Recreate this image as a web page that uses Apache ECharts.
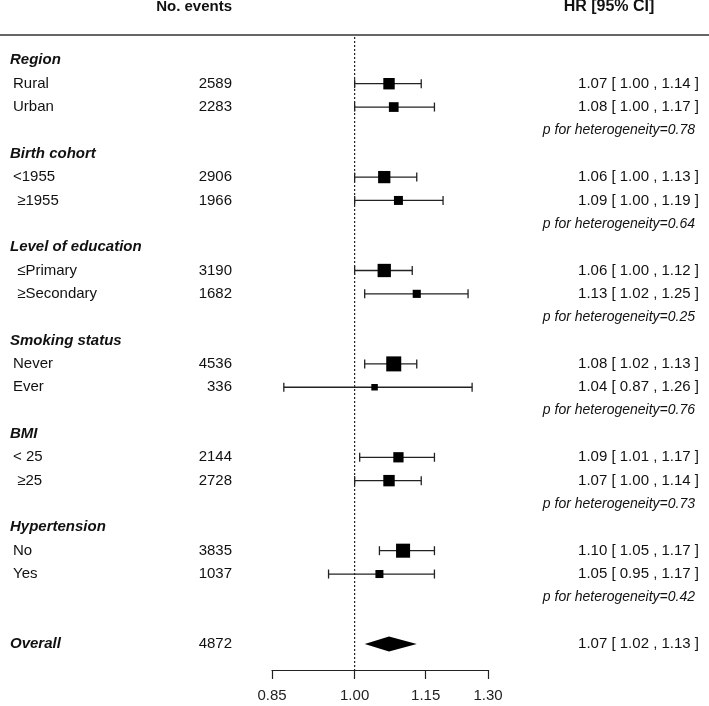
<!DOCTYPE html>
<html>
<head>
<meta charset="utf-8">
<title>Forest plot</title>
<script src="https://cdn.jsdelivr.net/npm/echarts@6/dist/echarts.min.js"></script>
<style>
  html, body { margin: 0; padding: 0; background: #fff; }
  #chart { width: 709px; height: 706px; }
</style>
</head>
<body>
<div id="chart"></div>
<script>
// 分组与亚组
const groups = ['Region', 'Birth cohort', 'Level of education', 'Smoking status', 'BMI', 'Hypertension'];
const subLabels = ['Rural', 'Urban', '<1955', ' \u22651955', ' \u2264Primary', ' \u2265Secondary',
    'Never', 'Ever', '< 25', ' \u226525', 'No', 'Yes'];
const events = [2589, 2283, 2906, 1966, 3190, 1682, 4536, 336, 2144, 2728, 3835, 1037];
const hr = [1.07, 1.08, 1.06, 1.09, 1.06, 1.13, 1.08, 1.04, 1.09, 1.07, 1.10, 1.05];
const lower = [1.00, 1.00, 1.00, 1.00, 1.00, 1.02, 1.02, 0.87, 1.01, 1.00, 1.05, 0.95];
const upper = [1.14, 1.17, 1.13, 1.19, 1.12, 1.25, 1.13, 1.26, 1.17, 1.14, 1.17, 1.17];
const pHet = ['0.78', '0.64', '0.25', '0.76', '0.73', '0.42'];
const overallEvents = 4872;
const overallCI = [1.07, 1.02, 1.13]; // HR, lower, upper
const refHR = 1.00;
const tickValues = [0.85, 1.00, 1.15, 1.30];
const tickLabels = ['0.85', '1.00', '1.15', '1.30'];

const FONT = '"Liberation Sans", Arial, sans-serif';
const fmt = v => v.toFixed(2);

// 行号：每组 4 行（标题、两个亚组、p 值），总计在第 25 行
const rowOf = i => Math.floor(i / 2) * 4 + 1 + (i % 2);
const overallRow = groups.length * 4 + 1;
const yMin = -1, yMax = 26.11;

// 方块大小按逆方差权重
const weights = hr.map((h, i) => {
    const se = (Math.log(upper[i]) - Math.log(lower[i])) / 3.92;
    return 1 / (se * se);
});
const wMin = Math.min(...weights), wMax = Math.max(...weights);
const boxSize = w => 6.5 + 8.5 * (w - wMin) / (wMax - wMin);

// 文字单元格
let cells = [];
groups.forEach((g, k) => {
    cells.push({ row: k * 4, text: g, x: 10, align: 'left', font: 'italic bold 15px ' + FONT });
    cells.push({ row: k * 4 + 3, text: 'p for heterogeneity=' + pHet[k], x: 695, align: 'right', font: 'italic 14px ' + FONT });
});
subLabels.forEach((s, i) => {
    cells.push({ row: rowOf(i), text: s, x: 13, align: 'left', font: '15px ' + FONT });
    cells.push({ row: rowOf(i), text: String(events[i]), x: 232, align: 'right', font: '15px ' + FONT });
    cells.push({ row: rowOf(i), text: fmt(hr[i]) + ' [ ' + fmt(lower[i]) + ' , ' + fmt(upper[i]) + ' ]', x: 699, align: 'right', font: '15px ' + FONT });
});
cells.push({ row: overallRow, text: 'Overall', x: 10, align: 'left', font: 'italic bold 15px ' + FONT });
cells.push({ row: overallRow, text: String(overallEvents), x: 232, align: 'right', font: '15px ' + FONT });
cells.push({ row: overallRow, text: fmt(overallCI[0]) + ' [ ' + fmt(overallCI[1]) + ' , ' + fmt(overallCI[2]) + ' ]', x: 699, align: 'right', font: '15px ' + FONT });

var myChart = echarts.init(document.getElementById('chart'));

var ciData = hr.map((h, i) => [Math.log(lower[i]), Math.log(upper[i]), Math.log(h), rowOf(i), boxSize(weights[i])]);

var option = {
    animation: false,
    grid: { left: 272, right: 221, top: 37, bottom: 36 },
    xAxis: {
        type: 'value',
        min: Math.log(tickValues[0]),
        max: Math.log(tickValues[tickValues.length - 1]),
        splitLine: { show: false },
        axisLine: { show: true, onZero: false, lineStyle: { color: '#222', width: 1.2 } },
        axisTick: {
            show: true,
            length: 9,
            customValues: tickValues.map(v => Math.log(v)),
            lineStyle: { color: '#222', width: 1.2 }
        },
        axisLabel: {
            show: true,
            margin: 18,
            customValues: tickValues.map(v => Math.log(v)),
            fontSize: 15,
            fontFamily: FONT,
            color: '#222',
            formatter: function (v) {
                let best = 0;
                tickValues.forEach((t, i) => {
                    if (Math.abs(Math.log(t) - v) < Math.abs(Math.log(tickValues[best]) - v)) best = i;
                });
                return tickLabels[best];
            }
        }
    },
    yAxis: {
        type: 'value',
        inverse: true,
        min: yMin,
        max: yMax,
        show: false
    },
    graphic: [
        {
            type: 'line',
            shape: { x1: 0, y1: 35, x2: 709, y2: 35 },
            style: { stroke: '#333', lineWidth: 1.5 }
        },
        {
            type: 'text', x: 232, y: 7,
            style: { text: 'No. events', font: 'bold 15px ' + FONT, fill: '#111', align: 'right', textAlign: 'right', verticalAlign: 'middle', textVerticalAlign: 'middle' }
        },
        {
            type: 'text', x: 609, y: 7,
            style: { text: 'HR [95% CI]', font: 'bold 16px ' + FONT, fill: '#111', align: 'center', textAlign: 'center', verticalAlign: 'middle', textVerticalAlign: 'middle' }
        }
    ],
    series: [
        {
            // 参考线 HR = 1
            type: 'line',
            data: [[Math.log(refHR), yMin], [Math.log(refHR), yMax]],
            symbol: 'none',
            silent: true,
            lineStyle: { color: '#222', width: 1.2, type: [2, 2] },
            z: 1
        },
        {
            type: 'custom',
            clip: false,
            data: ciData,
            renderItem: function (params, api) {
                var lo = api.coord([api.value(0), api.value(3)]);
                var hi = api.coord([api.value(1), api.value(3)]);
                var mid = api.coord([api.value(2), api.value(3)]);
                var s = api.value(4);
                var cap = 4.5;
                var ls = { stroke: '#222', lineWidth: 1.3 };
                return {
                    type: 'group',
                    children: [
                        { type: 'line', shape: { x1: lo[0], y1: lo[1], x2: hi[0], y2: hi[1] }, style: ls },
                        { type: 'line', shape: { x1: lo[0], y1: lo[1] - cap, x2: lo[0], y2: lo[1] + cap }, style: ls },
                        { type: 'line', shape: { x1: hi[0], y1: hi[1] - cap, x2: hi[0], y2: hi[1] + cap }, style: ls },
                        { type: 'rect', shape: { x: mid[0] - s / 2, y: mid[1] - s / 2, width: s, height: s }, style: { fill: '#000' } }
                    ]
                };
            },
            z: 3
        },
        {
            // 总体效应菱形
            type: 'custom',
            clip: false,
            data: [[Math.log(overallCI[1]), Math.log(overallCI[2]), Math.log(overallCI[0]), overallRow]],
            renderItem: function (params, api) {
                var lo = api.coord([api.value(0), api.value(3)]);
                var hi = api.coord([api.value(1), api.value(3)]);
                var mid = api.coord([api.value(2), api.value(3)]);
                var h = 7.5;
                return {
                    type: 'polygon',
                    shape: { points: [[lo[0], lo[1]], [mid[0], mid[1] - h], [hi[0], hi[1]], [mid[0], mid[1] + h]] },
                    style: { fill: '#000' }
                };
            },
            z: 3
        },
        {
            // 文字列
            type: 'custom',
            clip: false,
            silent: true,
            data: cells.map(c => [0, c.row]),
            renderItem: function (params, api) {
                var c = cells[params.dataIndex];
                var y = api.coord([0, api.value(1)])[1];
                return {
                    type: 'text',
                    x: c.x,
                    y: y,
                    style: {
                        text: c.text,
                        font: c.font,
                        fill: '#111',
                        align: c.align,
                        textAlign: c.align,
                        verticalAlign: 'middle',
                        textVerticalAlign: 'middle'
                    }
                };
            },
            z: 4
        }
    ]
};

myChart.setOption(option);
</script>
</body>
</html>
